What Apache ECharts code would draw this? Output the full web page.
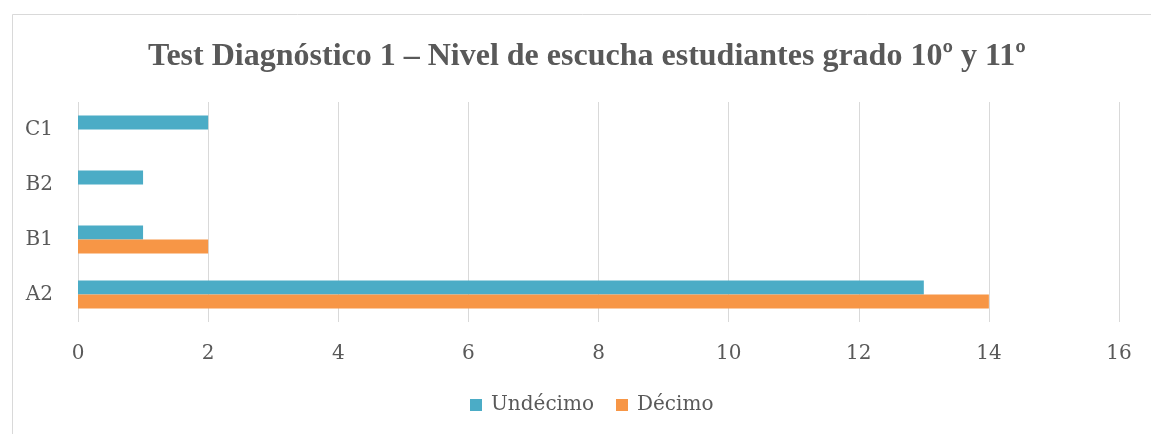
<!DOCTYPE html>
<html>
<head>
<meta charset="utf-8">
<script src="https://cdn.jsdelivr.net/npm/echarts@6/dist/echarts.min.js"></script>
<style>
  html, body { margin: 0; padding: 0; background: #fff; }
  #chart { width: 1151px; height: 434px; }
</style>
</head>
<body>
<div id="chart"></div>
<script>
// chart data
const categories = ["A2", "B1", "B2", "C1"];
const undecimo = [13, 1, 1, 2];
const decimo = [14, 2, 0, 0];
const xTicks = [0, 2, 4, 6, 8, 10, 12, 14, 16];

const titleFont = "'Liberation Serif', serif";
const labelFont = "'DejaVu Serif', serif";
const chart = echarts.init(document.getElementById("chart"));

chart.setOption({
  animation: false,
  backgroundColor: "#fff",
  graphic: [
    {
      type: "rect",
      left: 10, top: 12,
      shape: { width: 1200, height: 500 },
      style: { fill: "none", stroke: "#d9d9d9", lineWidth: 1 },
      silent: true
    }
  ],
  title: {
    text: "Test Diagnóstico 1 – Nivel de escucha estudiantes grado 10º y 11º",
    left: 148,
    top: 41,
    padding: 0,
    textStyle: { fontFamily: titleFont, fontWeight: "bold", fontSize: 32, color: "#595959" }
  },
  legend: {
    data: ["Undécimo", "Décimo"],
    bottom: 14,
    left: 465,
    itemWidth: 12,
    itemHeight: 12,
    itemGap: 22,
    icon: "rect",
    textStyle: { fontFamily: labelFont, fontSize: 20, color: "#595959", padding: [0, 0, 0, 4] }
  },
  grid: { left: 78, right: 32, top: 102, bottom: 112 },
  xAxis: {
    type: "value",
    min: xTicks[0],
    max: xTicks[xTicks.length - 1],
    interval: 2,
    axisLine: { show: false },
    axisTick: { show: false },
    axisLabel: { fontFamily: labelFont, fontSize: 20, color: "#595959", margin: 22 },
    splitLine: { lineStyle: { color: "#d9d9d9", width: 1 } }
  },
  yAxis: {
    type: "category",
    data: categories,
    axisLine: { show: false },
    axisTick: { show: false },
    axisLabel: { fontFamily: labelFont, fontSize: 20, color: "#595959", margin: 25 }
  },
  series: [
    {
      name: "Undécimo",
      type: "bar",
      data: undecimo,
      barWidth: 14,
      barGap: "0%",
      itemStyle: { color: "#4BACC6" }
    },
    {
      name: "Décimo",
      type: "bar",
      data: decimo,
      barWidth: 14,
      barGap: "0%",
      itemStyle: { color: "#F79646" }
    }
  ]
});
</script>
</body>
</html>
